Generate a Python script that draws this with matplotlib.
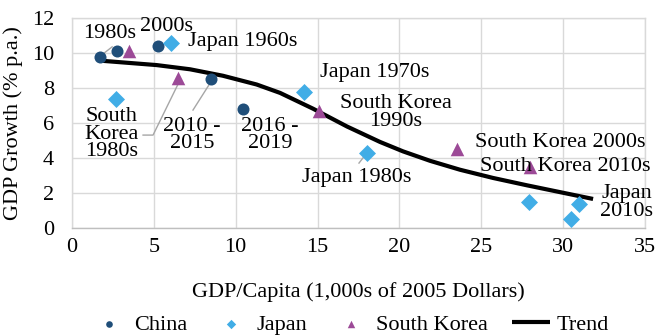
import matplotlib
matplotlib.use("Agg")
import matplotlib.pyplot as plt

plt.rcParams['font.family'] = ['Liberation Serif', 'DejaVu Serif']

# GDP per capita (1,000s of 2005 USD) vs. decade GDP growth (% p.a.)
china_x = [1.7, 2.75, 5.25, 8.5, 10.45]
china_y = [9.8, 10.1, 10.4, 8.5, 6.8]

japan_x = [6.05, 2.7, 14.2, 18.0, 27.9, 31.0, 30.5]
japan_y = [10.6, 7.4, 7.8, 4.3, 1.5, 1.4, 0.5]

korea_x = [3.5, 6.5, 15.1, 23.5, 28.0]
korea_y = [10.1, 8.6, 6.7, 4.5, 3.5]

trend_x = [1.77, 5.17, 7.21, 9.22, 11.28, 12.71, 14.72, 16.8, 18.81,
           20.22, 21.87, 23.7, 25.72, 27.79, 29.81, 31.83]
trend_y = [9.56, 9.31, 9.07, 8.70, 8.20, 7.72, 6.82, 5.80, 4.92,
           4.38, 3.84, 3.33, 2.86, 2.44, 2.05, 1.66]

# label text, position, horizontal alignment
labels = [
    ("1980s", 2.32, 11.14, "center"),
    ("2000s", 5.8, 11.54, "center"),
    ("Japan 1960s", 7.09, 10.63, "left"),
    ("South\nKorea\n1980s", 2.42, 5.37, "center"),
    ("2010 -\n2015", 7.33, 5.31, "center"),
    ("2016 -\n2019", 12.1, 5.31, "center"),
    ("Japan 1970s", 18.5, 8.87, "center"),
    ("South Korea\n1990s", 19.78, 6.6, "center"),
    ("Japan 1980s", 17.4, 2.86, "center"),
    ("South Korea 2000s", 24.6, 4.87, "left"),
    ("South Korea 2010s", 24.9, 3.5, "left"),
    ("Japan\n2010s", 32.25, 1.46, "left"),
]

# leader lines from labels to their points
leaders = [
    ([2.45, 1.83], [10.35, 9.9]),
    ([4.34, 4.95, 6.54], [5.31, 5.31, 8.34]),
    ([7.39, 8.43], [6.74, 8.27]),
    ([17.53, 17.96], [3.71, 4.23]),
]

FS = 16

fig = plt.figure(figsize=(6.57, 3.36), dpi=100)
ax = fig.add_axes([0.1096, 0.3214, 0.8721, 0.625])

ax.grid(True, color="#d9d9d9", linewidth=1.0, zorder=0)
ax.set_axisbelow(True)

for lx, ly in leaders:
    ax.plot(lx, ly, color="#a6a6a6", linewidth=1.0, zorder=1)

ax.plot(trend_x, trend_y, color="black", linewidth=3, zorder=2,
        solid_capstyle="butt", solid_joinstyle="round", label="Trend")
ax.scatter(china_x, china_y, s=75, marker="o", color="#1f4e79",
           zorder=3, label="China", linewidths=0)
ax.scatter(japan_x, japan_y, s=75, marker="D", color="#41ade6",
           zorder=3, label="Japan", linewidths=0)
ax.scatter(korea_x, korea_y, s=95, marker="^", color="#9c4a97",
           zorder=3, label="South Korea", linewidths=0)

for text, x, y, ha in labels:
    ax.text(x, y, text, ha=ha, va="center", fontsize=FS,
            multialignment="center", linespacing=0.9, zorder=4)

ax.set_xlim(0, 35)
ax.set_ylim(0, 12)
ax.set_xticks(range(0, 36, 5))
ax.set_yticks(range(0, 13, 2))
ax.tick_params(axis="both", length=0, labelsize=FS)
ax.tick_params(axis="y", pad=13)
ax.tick_params(axis="x", pad=7)

for side in ["left", "top", "right"]:
    ax.spines[side].set_color("#d9d9d9")
ax.spines["bottom"].set_color("#bfbfbf")
for s in ax.spines.values():
    s.set_linewidth(1.0)

ax.set_xlabel("GDP/Capita (1,000s of 2005 Dollars)", fontsize=FS, labelpad=18)
ax.set_ylabel("GDP Growth (% p.a.)", fontsize=FS, labelpad=6)

handles, names = ax.get_legend_handles_labels()
order = [1, 2, 3, 0]
fig.legend([handles[i] for i in order], [names[i] for i in order],
           loc="center", bbox_to_anchor=(0.532, 0.035), ncol=4, frameon=False,
           fontsize=FS, markerscale=0.55, handlelength=1.7,
           handletextpad=0.3, columnspacing=1.1)

fig.savefig("out.png", dpi=100)
